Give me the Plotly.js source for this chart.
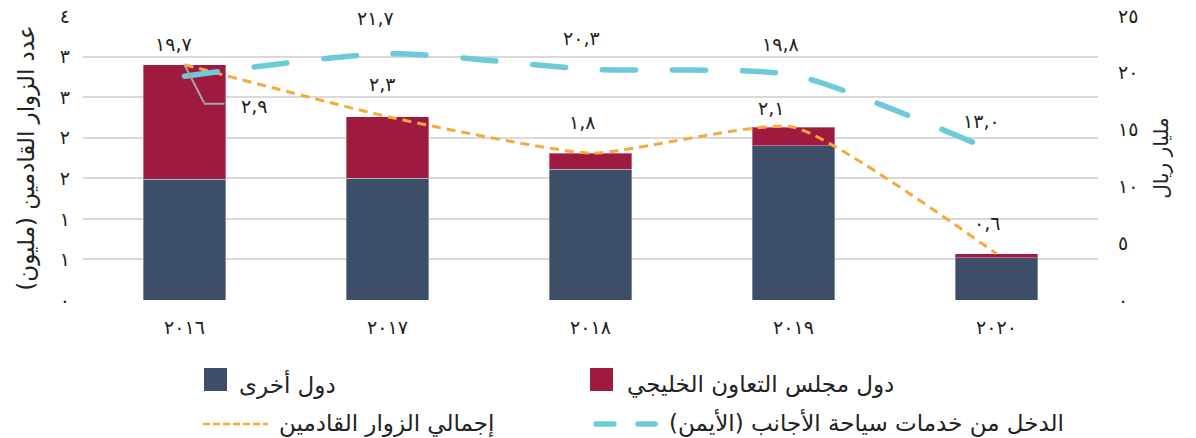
<!DOCTYPE html>
<html><head><meta charset="utf-8">
<script src="https://cdn.plot.ly/plotly-3.0.1.min.js"></script>
<style>html,body{margin:0;padding:0;background:#fff;} #chart{width:1196px;height:438px;}</style>
</head><body><div id="chart"></div>
<script>
// ---- data ----
const years = ['٢٠١٦','٢٠١٧','٢٠١٨','٢٠١٩','٢٠٢٠'];
const otherCountries = [1.49, 1.50, 1.61, 1.90, 0.52];
const gccCountries   = [1.41, 0.76, 0.20, 0.23, 0.05];
const totalVisitors  = [2.90, 2.26, 1.81, 2.13, 0.57];
const tourismRevenue = [19.7, 21.7, 20.3, 19.8, 13.0];
const leftTickVals  = [0, 0.5, 1, 1.5, 2, 2.5, 3, 3.5];
const leftTickText  = ['٠','١','١','٢','٢','٣','٣','٤'];
const rightTickVals = [0, 5, 10, 15, 20, 25];
const rightTickText = ['٠','٥','١٠','١٥','٢٠','٢٥'];
const nameOthers  = 'دول أخرى';
const nameGcc     = 'دول مجلس التعاون الخليجي';
const nameTotal   = 'إجمالي الزوار القادمين';
const nameRevenue = 'الدخل من خدمات سياحة الأجانب (الأيمن)';
const titleLeft   = 'عدد الزوار القادمين (مليون)';
const titleRight  = 'مليار ريال';

// ---- styles ----
const FONT = 'DejaVu Sans';
const C_OTH = '#3d4f68', C_GCC = '#9e1a3f', C_TOT = '#f7a93b', C_REV = '#6dcad9';
const revOffsets = [[-11,32],[-12,35],[-9,31],[-13,31],[-15,31]];
const totOffsets = [[69,-41],[-6,33],[-9,31],[-23,19],[-10,31]];
const M = {l:83, r:98, t:16, b:138}, W = 1196, H = 438;
const PW = W - M.l - M.r, PH = H - M.t - M.b;
const px = x => (x - M.l) / PW;
const py = y => (H - M.b - y) / PH;
const NUM = 19;
const numFont = {family:FONT, size:NUM, color:'#222'};

const ar = v => v.toFixed(1).replace(/\d/g, d => '٠١٢٣٤٥٦٧٨٩'[+d]).replace('.', ',');

const traces = [
  {type:'bar', x:years, y:otherCountries, name:nameOthers, marker:{color:C_OTH, line:{color:'rgba(255,255,255,0.35)', width:1}}, hoverinfo:'skip'},
  {type:'bar', x:years, y:gccCountries, name:nameGcc, marker:{color:C_GCC, line:{color:'rgba(255,255,255,0.35)', width:1}}, hoverinfo:'skip'},
  {type:'scatter', mode:'lines', x:years, y:totalVisitors, name:nameTotal, line:{color:C_TOT, width:3, dash:'9px,6px', shape:'spline', smoothing:0.5}, hoverinfo:'skip'},
  {type:'scatter', mode:'lines', x:years, y:tourismRevenue, yaxis:'y2', name:nameRevenue, line:{color:C_REV, width:5.5, dash:'33px,37px', shape:'spline', smoothing:0.6}, hoverinfo:'skip'}
];

const annotations = [];
years.forEach((yr, i) => {
  annotations.push({x:yr, y:tourismRevenue[i], xref:'x', yref:'y2', text:ar(tourismRevenue[i]), showarrow:false,
    xshift:revOffsets[i][0], yshift:revOffsets[i][1], font:numFont});
  annotations.push({x:yr, y:totalVisitors[i], xref:'x', yref:'y', text:ar(totalVisitors[i]), showarrow:false,
    xshift:totOffsets[i][0], yshift:totOffsets[i][1], font:numFont});
});
// bent leader line for the first total label
const leader = {xref:'x', yref:'y', x:years[0], y:totalVisitors[0], text:' ', showarrow:true, arrowhead:0,
  arrowwidth:2, arrowcolor:'#a6a6a6', standoff:0, font:{size:1}, borderpad:0};
annotations.push(Object.assign({}, leader, {ax:20, ay:39}));
annotations.push(Object.assign({}, leader, {xshift:40, yshift:-39, ax:-21, ay:0}));

// legend texts
const legFont = {family:FONT, size:23, color:'#222'};
annotations.push({xref:'paper', yref:'paper', x:px(237), y:py(384), xanchor:'left', yanchor:'middle', text:nameOthers, showarrow:false, font:legFont});
annotations.push({xref:'paper', yref:'paper', x:px(625), y:py(384), xanchor:'left', yanchor:'middle', text:nameGcc, showarrow:false, font:legFont});
annotations.push({xref:'paper', yref:'paper', x:px(277), y:py(423), xanchor:'left', yanchor:'middle', text:nameTotal, showarrow:false, font:legFont});
annotations.push({xref:'paper', yref:'paper', x:px(667), y:py(423), xanchor:'left', yanchor:'middle', text:nameRevenue, showarrow:false, font:legFont});

const shapes = [
  {type:'rect', xref:'paper', yref:'paper', x0:px(204), x1:px(227), y0:py(391), y1:py(368), fillcolor:C_OTH, line:{width:0}},
  {type:'rect', xref:'paper', yref:'paper', x0:px(590), x1:px(613), y0:py(391), y1:py(368), fillcolor:C_GCC, line:{width:0}},
  {type:'line', xref:'paper', yref:'paper', x0:px(203), x1:px(268), y0:py(424), y1:py(424), line:{color:C_TOT, width:2.5, dash:'7px,3px'}},
  {type:'line', xref:'paper', yref:'paper', x0:px(596), x1:px(614), y0:py(424), y1:py(424), line:{color:C_REV, width:5.5}},
  {type:'line', xref:'paper', yref:'paper', x0:px(638), x1:px(655), y0:py(424), y1:py(424), line:{color:C_REV, width:5.5}}
];

const layout = {
  width:W, height:H, margin:M,
  paper_bgcolor:'#fff', plot_bgcolor:'#fff',
  barmode:'stack', bargap:0.596, showlegend:false,
  font:{family:FONT, size:NUM, color:'#222'},
  xaxis:{type:'category', showgrid:false, zeroline:false, showline:false, ticks:'', ticklabelstandoff:14, tickfont:{size:NUM}},
  yaxis:{range:[0,3.5], tickvals:leftTickVals, ticktext:leftTickText, gridcolor:'#d9d9d9', gridwidth:2, zeroline:false, showline:false,
         ticks:'', ticklabelstandoff:12, tickfont:{size:NUM},
         title:{text:titleLeft, font:{size:23, color:'#222'}, standoff:18}},
  yaxis2:{overlaying:'y', side:'right', range:[0,25], tickvals:rightTickVals, ticktext:rightTickText, showgrid:false, zeroline:false,
          showline:false, ticks:'', ticklabelstandoff:19, tickfont:{size:NUM},
          title:{text:titleRight, font:{size:20, color:'#222'}, standoff:16}},
  annotations, shapes
};

Plotly.newPlot('chart', traces, layout, {staticPlot:true}).then(gd => {
  gd.querySelectorAll('path').forEach(p => {
    const s = (p.style.stroke || '').replace(/\s/g,'');
    if (s === 'rgb(109,202,217)') p.style.strokeLinecap = 'round';
  });
});
</script>
</body></html>
